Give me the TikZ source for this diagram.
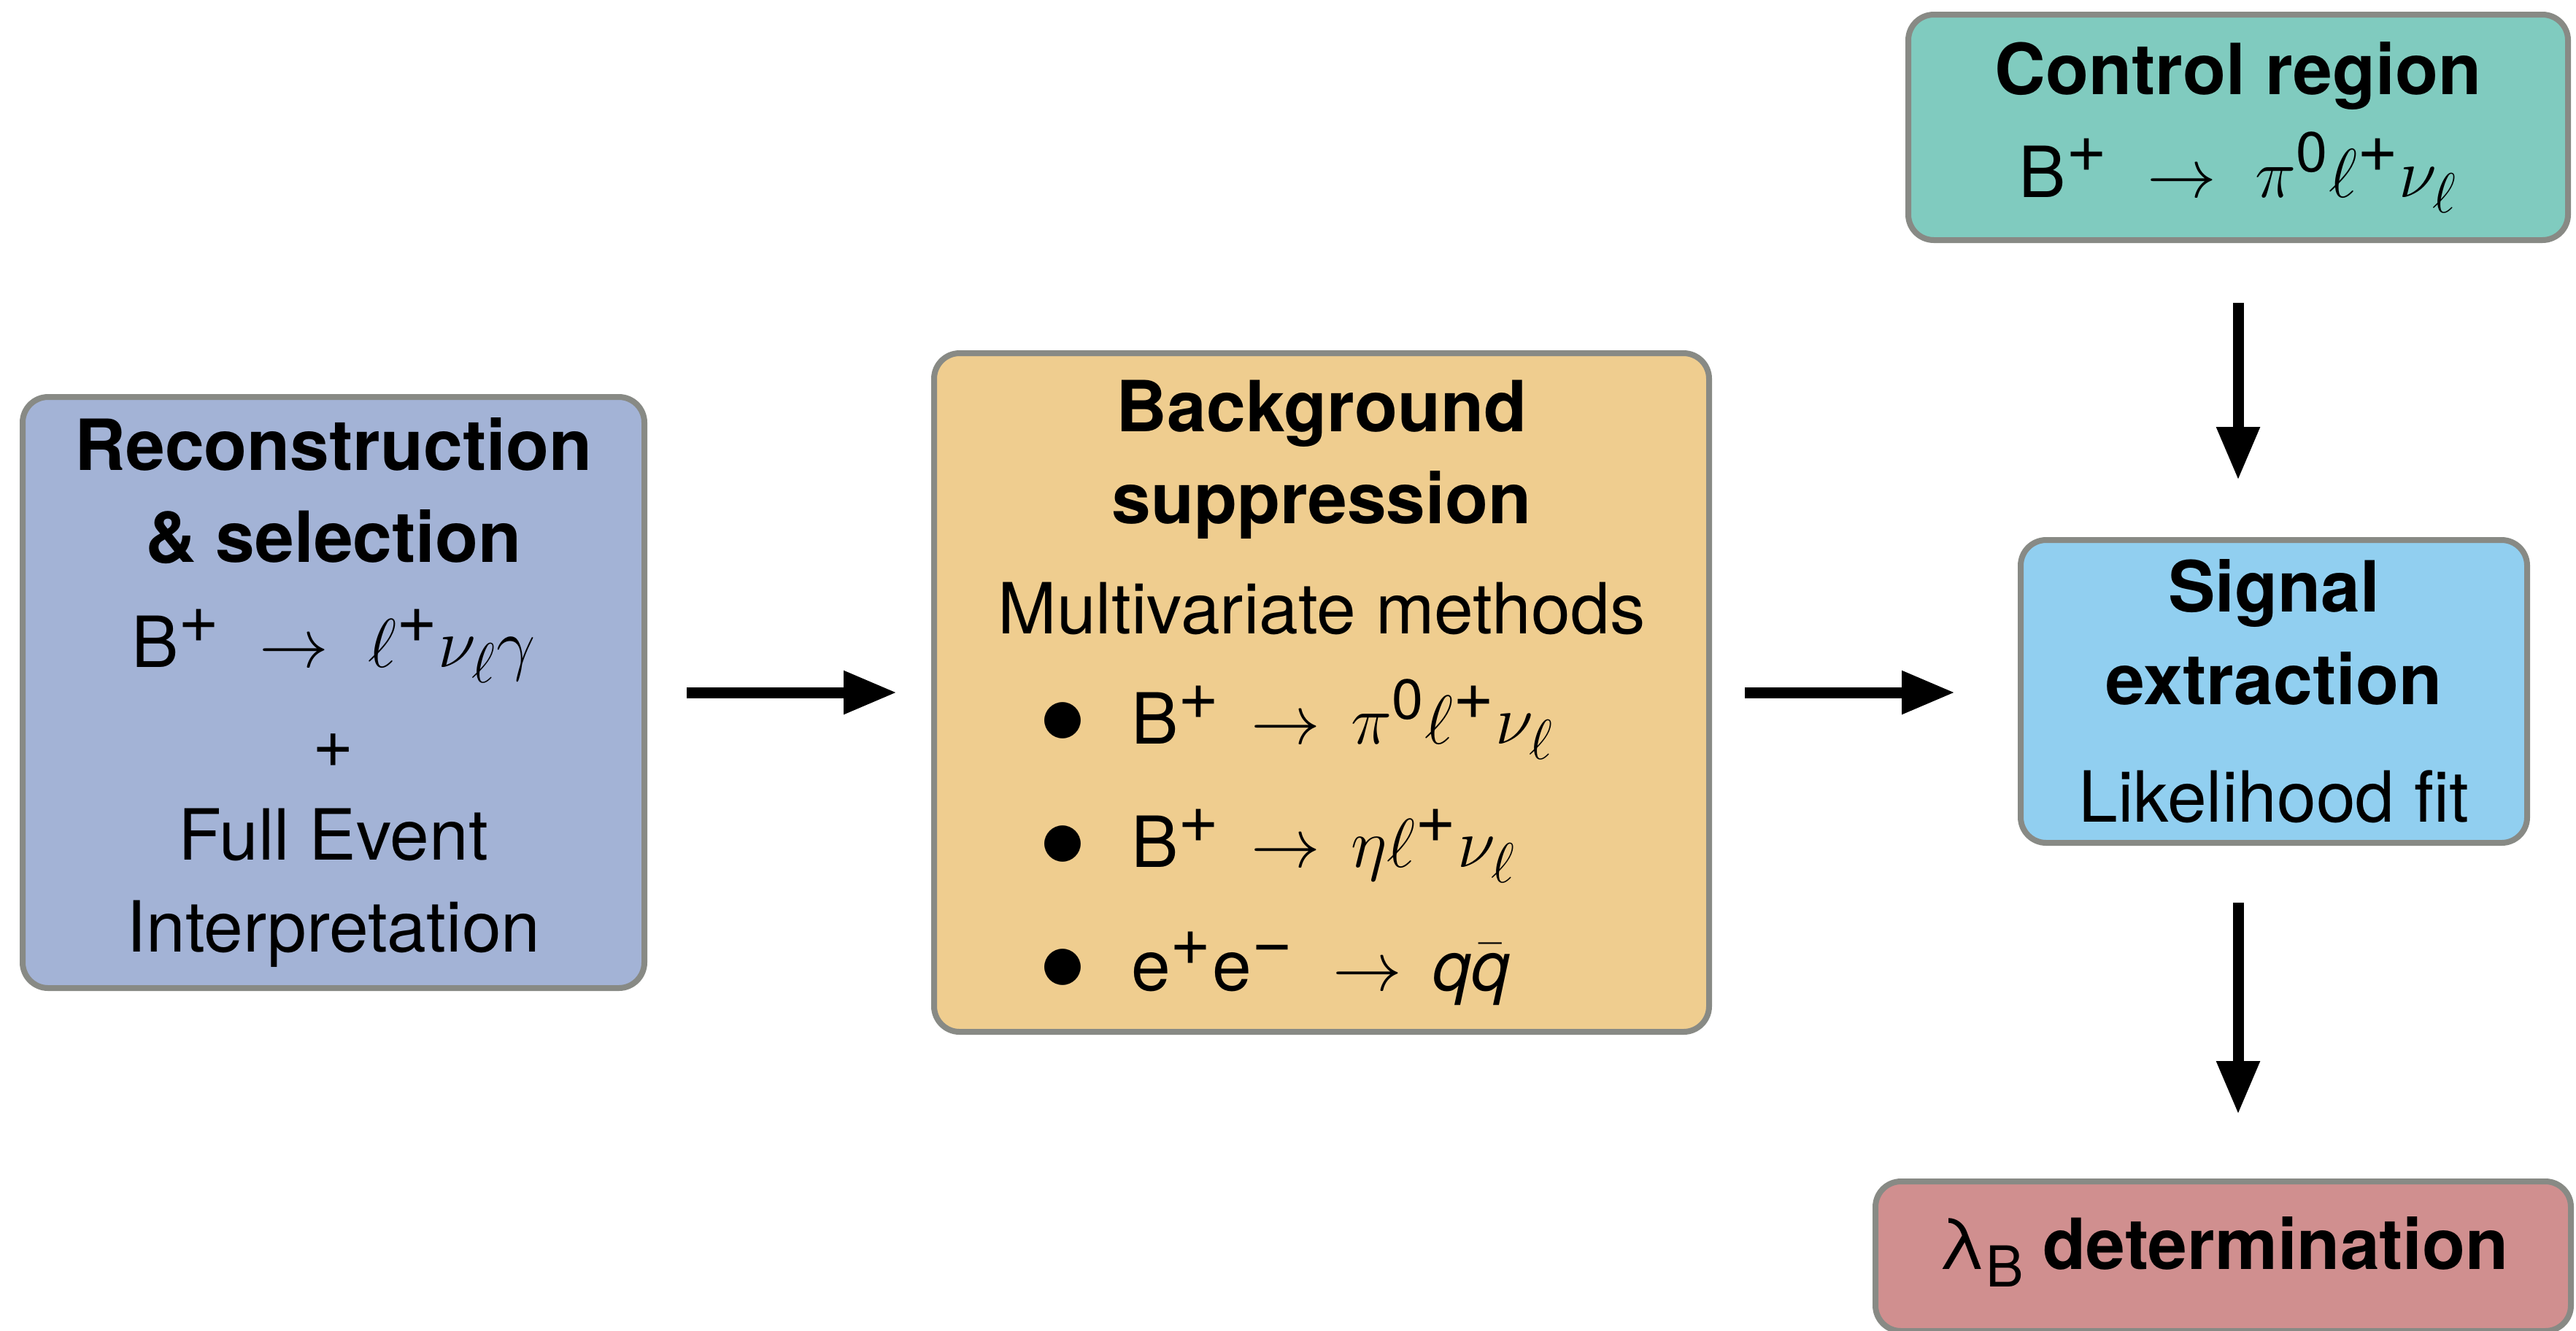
\RequirePackage{fix-cm}
\documentclass[tikz,border=0pt]{standalone}
\usepackage{amsmath}
\usepackage{fontspec}
\setmainfont{TeX Gyre Heros}
\usetikzlibrary{arrows.meta}
\DeclareMathSizes{27.5}{27}{22}{17}
\newcommand{\chg}[1]{^{\mbox{\scalebox{1.3}{\fontsize{21}{21}\selectfont #1}}}}

\definecolor{recocol}{HTML}{A3B3D6}
\definecolor{bkgcol}{HTML}{EFCD8F}
\definecolor{ctrlcol}{HTML}{80CBBF}
\definecolor{sigcol}{HTML}{91CFF0}
\definecolor{lambcol}{HTML}{D08F8F}
\definecolor{framecol}{HTML}{888A85}

\begin{document}
\begin{tikzpicture}[thick,
		main/.style = {draw=framecol, line width=0.08cm, rounded corners=0.35cm, align=center, inner sep=0pt, font=\fontsize{27.5}{36}\selectfont},
		flow/.style = {line width=0.15cm, -{Triangle[length=0.73cm,width=0.56cm]}}]
		\useasboundingbox (0,0) rectangle (35.30,-18.23);
		%Main chain of boxes
		\node[main, fill=recocol, minimum width=8.52cm, minimum height=8.10cm] (reco) at (4.57,-9.49)
			{\textbf{Reconstruction}\\ \textbf{\& selection}\\[5pt]
			 B${}\chg{+}$ $\;\to\;$ $\ell\chg{+}\nu_{\ell}\gamma$\\[3pt] +\\ Full Event\\ Interpretation};
		\node[main, fill=bkgcol, minimum width=10.62cm, minimum height=9.30cm] (bkg) at (18.11,-9.49)
			{\textbf{Background}\\ \textbf{suppression}\\[7pt] Multivariate methods\\[7pt]
			 \makebox[7.74cm][l]{\scalebox{1.35}{$\bullet$}\hspace{0.62cm}B${}\chg{+}\,\to\,\pi^{\mathrm{0}}\ell\chg{+}\nu_{\ell}$}\\[12pt]
			 \makebox[7.74cm][l]{\scalebox{1.35}{$\bullet$}\hspace{0.62cm}B${}\chg{+}\,\to\,\eta\ell\chg{+}\nu_{\ell}$}\\[12pt]
			 \makebox[7.74cm][l]{\scalebox{1.35}{$\bullet$}\hspace{0.62cm}e${}\chg{+}$e${}\chg{−}$ $\;\to\,\mathit{q}\bar{\mathit{q}}$}};
		\node[main, fill=sigcol, minimum width=6.94cm, minimum height=4.15cm] (sig) at (31.16,-9.475)
			{\textbf{Signal}\\ \textbf{extraction}\\[10pt] Likelihood fit};
		%Side boxes on the right
		\node[main, fill=ctrlcol, minimum width=9.04cm, minimum height=3.09cm] (ctrl) at (30.67,-1.745)
			{\textbf{Control region}\\[4pt] B${}\chg{+}$ $\;\to\;$ $\pi^{\mathrm{0}}\ell\chg{+}\nu_{\ell}$};
		\node[main, fill=lambcol, minimum width=9.53cm, minimum height=2.05cm] (lamb) at (30.465,-17.215)
			{λ$_{\mathrm{B}}$\hspace{0.25cm}\textbf{determination}\rule[-0.36cm]{0pt}{0pt}};
		
		%Arrows between the steps
		\draw[flow, shorten <=0.54cm, shorten >=0.47cm] (reco.east) -- (bkg.west); %reco -> bkg
		\draw[flow, shorten <=0.45cm, shorten >=0.86cm] (bkg.east) -- (sig.west |- bkg.east); %bkg -> signal
		\draw[flow, shorten <=0.82cm, shorten >=0.78cm] (ctrl.south) -- (ctrl.south |- sig.north); %ctrl -> signal
		\draw[flow, shorten <=0.78cm, shorten >=0.88cm] (ctrl.south |- sig.south) -- (ctrl.south |- lamb.north); %signal -> lambda
	\end{tikzpicture}
\end{document}
